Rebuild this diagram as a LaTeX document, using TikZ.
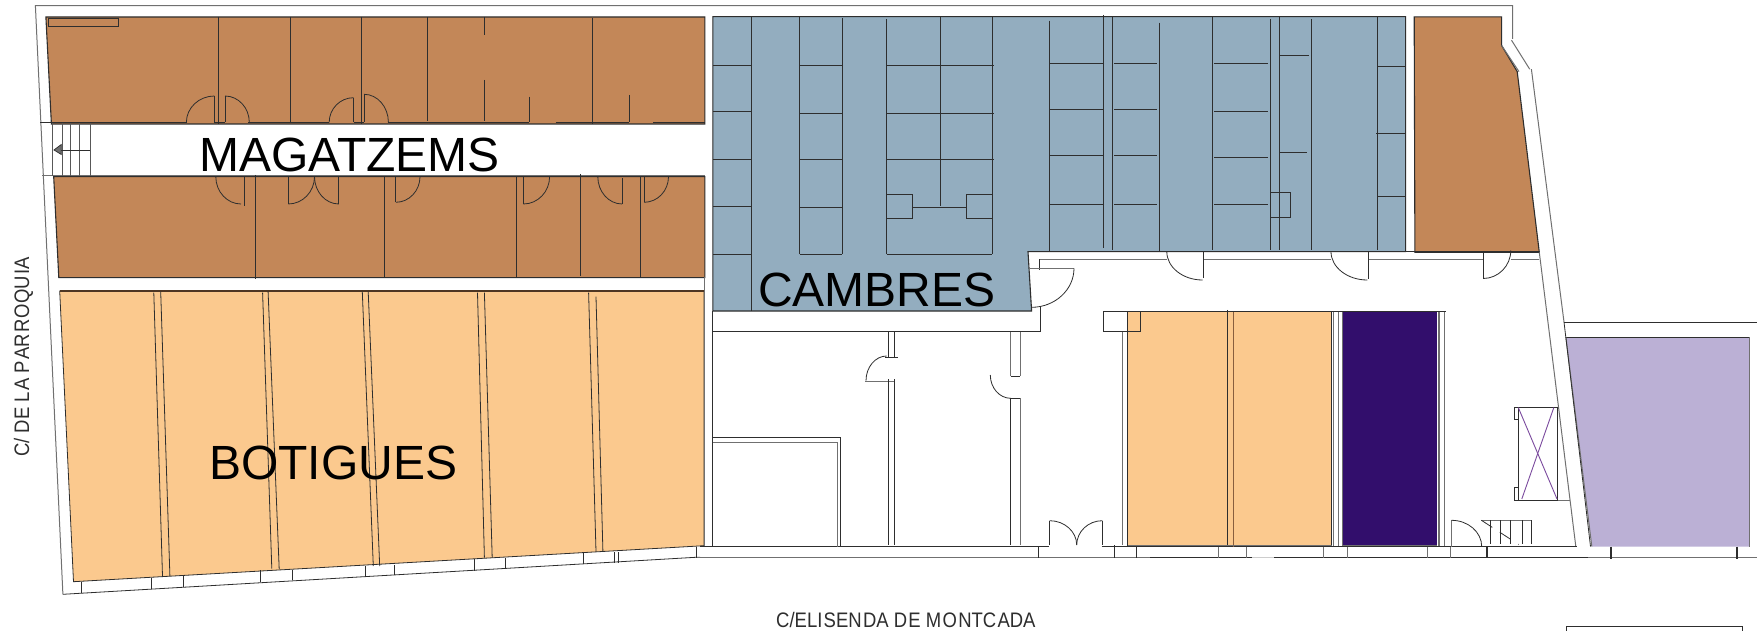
\documentclass[tikz,border=0pt]{standalone}
\usepackage{fontspec}
\setmainfont{Liberation Sans}
\newfontfamily\narrowf[FakeStretch=0.88]{Liberation Sans}
\newcommand\kk{\kern1.3pt\relax}
\definecolor{brownz}{HTML}{C38758}
\definecolor{bluez}{HTML}{93ADBF}
\definecolor{orangez}{HTML}{FBC98E}
\definecolor{darkz}{HTML}{320E6C}
\definecolor{lilacz}{HTML}{BBB0D5}
\definecolor{crossz}{HTML}{7B4A9E}
\definecolor{inkz}{HTML}{2E2E2E}
\definecolor{greyz}{HTML}{707070}
\tikzset{
  wl/.style={draw=inkz,line width=0.8pt},
  gl/.style={draw=greyz,line width=1pt},
  zone/.style={draw=inkz,line width=1.1pt,line join=miter},
  biglabel/.style={inner sep=0pt,anchor=base west,font=\fontsize{48}{50}\selectfont,text=black},
  smalllabel/.style={inner sep=0pt,font=\narrowf\fontsize{21}{23}\selectfont,text=inkz}
}
\newcommand\qarc[4]{%
  \pgfmathsetmacro\cxa{#1+0.55*(#3-#1)}%
  \pgfmathsetmacro\cya{#4-0.55*(#4-#2)}%
  \draw[wl] (#1,#2) .. controls (\cxa,#2) and (#3,\cya) .. (#3,#4);}
\begin{document}
\begin{tikzpicture}[x=1pt,y=-1pt]
\useasboundingbox (0,0) rectangle (1757,631);
\fill[white] (0,0) rectangle (1757,631);

% filled zones
\fill[brownz,zone] (45.9,17) -- (704.8,17) -- (704.8,124) -- (51.4,124) -- cycle;
\fill[brownz,zone] (53.7,176.7) -- (704.8,176.7) -- (704.8,277.7) -- (58.8,277.7) -- cycle;
\fill[brownz,zone] (1414.2,16.9) -- (1501.6,16.9) -- (1501.6,45.5) -- (1517.2,71.6) -- (1539.3,252.3) -- (1414.9,252.3) -- cycle;
\fill[bluez,zone] (712.8,16.7) -- (1405.6,16.7) -- (1405.6,251.7) -- (1028,251.7) -- (1031.6,311) -- (712.8,311) -- cycle;
\fill[orangez,wl] (59.7,291) -- (703.9,291) -- (703.9,545.7) -- (73.5,581.7) -- cycle;
\draw[gl,draw=black!60!brownz,line width=1.4pt] (59.7,291) -- (703.9,291);
\fill[orangez,wl] (1127.7,311.3) -- (1331.8,311.3) -- (1331.8,545.3) -- (1127.7,545.3) -- cycle;
\fill[darkz] (1342.1,311.5) rectangle (1437.3,544.9);
\fill[lilacz] (1565.9,337.2) -- (1749.9,337.2) -- (1749.9,546.5) -- (1591.8,546.5) -- cycle;
\draw[wl] (1565.9,337.2) -- (1749.9,337.2);
\draw[gl] (1749.9,337.2) -- (1749.9,546.5);
\draw[gl] (1565.9,337.2) -- (1591.8,546.5);
\draw[wl] (1564,322) -- (1590.5,546.5);

% outer wall
\draw[gl] (62.9,594.3) -- (35.4,5.7) -- (1512.6,5.7) -- (1512.6,39);
\draw[wl] (62.9,594.3) -- (695.6,557.3) -- (700,557.3);
\draw[gl] (700,557.5) -- (1150,557.5);
\draw[wl] (1150,557.5) -- (1252,557.5);
\draw[draw=greyz!35,line width=1pt] (1252,557.5) -- (1274,557.5);
\draw[wl] (1274,557.5) -- (1588,557.5);
\draw[gl] (1588,557.5) -- (1757,557.5);
\draw[gl] (1511.5,40.2) -- (1529.7,69.2);
\draw[gl] (1531.4,69.2) -- (1564,322);
\draw[wl] (1564,322.5) -- (1757,322.5);
\draw[gl] (1539.3,252.3) -- (1575.8,546.5);
\draw[gl] (1501.6,45.5) -- (1519,71.6);

% upper brown zone
\draw[wl] (48,18.3) rectangle (118.5,26);
\foreach \x/\a/\b in {218.5/17/124,290.6/17/122.3,360.9/17/124,427.5/17/120.7,484.4/17/35,484.4/80/120.7,592.3/18/124,529.4/96.7/122.3,629/95/122.3,214.4/96/122.3,225/96/122.3,353.5/97.7/122.3,364.1/94.3/122.3}
  \draw[wl] (\x,\a) -- (\x,\b);
\foreach \a/\b in {51.4/187.3,214.4/225,248.3/329.2,353.5/364.1,388.4/529.4,555.5/629,653.4/704.8}
  \draw[wl] (\a,122.3) -- (\b,122.3);
\qarc{214.4}{96}{186.4}{122.3}
\qarc{225}{96}{249.3}{122.3}
\qarc{353.5}{97.7}{329.2}{122.3}
\qarc{364.1}{94.3}{388.4}{122.3}

% corridor and stairs
\draw[wl] (40.4,122.7) -- (52.8,122.7);
\draw[gl] (42.2,175.7) -- (704.8,175.7);
\foreach \x in {52.8,62.3,70,79.4,90.4}
  \draw[wl,draw=inkz!80] (\x,122.7) -- (\x,175.7);
\draw[wl] (55,150) -- (90.4,150);
\filldraw[draw=inkz,fill=greyz,line width=0.7pt] (54,150) -- (61.3,144.5) -- (61.3,154.5) -- cycle;

% lower brown zone
\foreach \x/\a/\b in {255.3/175/279.3,384.8/176.7/277.7,516.5/176.7/277.7,580.8/174/276,640.5/176.7/277.7,244.3/176.7/205.7,288.3/176.7/204,338.8/176.7/204,395.8/176.7/202.3,523.4/176.7/204,622.1/178.3/204,644.2/176.7/202.3}
  \draw[wl] (\x,\a) -- (\x,\b);
\qarc{241}{204}{215.8}{176.7}
\qarc{288.3}{204}{314.5}{176.7}
\qarc{338.8}{204}{314.5}{176.7}
\qarc{395.8}{202.3}{420}{176.7}
\qarc{523.4}{204}{549.6}{176.7}
\qarc{622.1}{204}{597.8}{176.7}
\qarc{644.2}{202.3}{668.5}{176.7}

% botigues double lines
\foreach \xa/\ya/\xb/\yb in {153.8/292.7/162.5/576,160.7/291.7/169.9/576,262.6/292.7/271.8/568.7,268.1/291.7/279.2/569.3,362.3/291.7/373.3/566,368.2/291.7/379.7/566,477.5/292.7/484.4/557.7,484.4/292.7/492.2/557.7,588.6/292.7/596/551.7,596/296.7/602.9/551}
  \draw[wl] (\xa,\ya) -- (\xb,\yb);
\foreach \x/\a/\b in {81.3/581.7/593.3,151.5/577.7/589.3,183.7/576/587.3,260.8/570/581.7,292/570/580,365/565.7/576,394/565/575,474.3/559.3/570.7,505.5/557.7/569,583/553.3/564.3,614.3/552/563.3,618/552/562.7,696/546.7/557.7}
  \draw[wl] (\x,\a) -- (\x,\b);

% blue zone
\foreach \x/\a/\b in {751.5/17/311,799.5/17/254,842.3/18.3/254,886.7/19/254,940.3/17/205.7,992.3/17/254,1049.5/20.7/251.7,1103.6/15/248.3,1112.8/17/250,1159.2/22.7/251.7,1212.8/17/250,1269.9/19/250,1279.6/17/250,1311.2/19/250,1377.6/17/250}
  \draw[wl] (\x,\a) -- (\x,\b);
\foreach \a/\b/\y in {712.8/751.5/65,712.8/751.5/111.3,712.8/751.5/159.3,712.8/751.5/206,712.8/751.5/254,
  799.5/842.3/65,799.5/842.3/113.3,799.5/842.3/159.3,799.5/842.3/207.7,799.5/842.3/254,
  886.7/993.9/65,886.7/993.9/113.3,886.7/993.9/159.3,886.7/992.3/254,912.8/966.3/207.3,
  1049.5/1103.6/63,1049.5/1103.6/109.3,1049.5/1103.6/155.7,1049.5/1103.6/204,
  1114.3/1157.1/63,1114.3/1157.1/109.3,1114.3/1157.1/155.7,1114.3/1157.1/204,
  1214.3/1268/63,1214.3/1268/111.3,1214.3/1268/157.3,1214.3/1268/204,
  1279.6/1309.2/55.7,1279.6/1307.1/152,
  1377.6/1405.6/66.7,1376.1/1405.6/133.3,1377.6/1405.6/196.3}
  \draw[wl] (\a,\y) -- (\b,\y);
\draw[wl] (886.7,194.3) rectangle (912.8,218.7);
\draw[wl] (966.3,194.3) rectangle (992.3,218.7);
\draw[wl] (1269.9,192.7) rectangle (1290.3,217);

% corridor below blue
\draw[wl] (1405.6,251.7) -- (1539.3,251.7);
\foreach \a/\b in {1039.8/1166.8,1203.6/1331.1,1368.5/1483.1,1510.8/1539.3}
  \draw[gl,line width=0.9pt] (\a,259.5) -- (\b,259.5);
\draw[wl] (1039.8,259.3) -- (1039.8,270);
\draw[wl] (1203.6,251.7) -- (1203.6,278.5);
\draw[wl] (1368.4,251.7) -- (1368.4,279);
\draw[wl] (1483.1,252.7) -- (1483.1,278.9);
\draw[gl] (1029,268.3) -- (1074,268.3);
\qarc{1031.6}{307.3}{1074}{268.3}
\qarc{1202.5}{280}{1166.8}{251.7}
\qarc{1367.3}{280}{1331}{251.7}
\qarc{1483.1}{278.5}{1510.8}{250.3}

% rooms below
\draw[wl] (1040.7,307.3) -- (1040.7,331.7) -- (713.3,331.7);
\draw[gl] (704.8,277) -- (704.8,546);
\draw[wl] (712.7,311) -- (712.7,546.7);
\draw[gl,line width=0.8pt] (712,277) -- (712,17);
\draw[wl] (700,546.7) -- (1049.3,546.7);
\draw[wl] (1101.7,546.7) -- (1577,546.7);
\draw[wl] (712.7,437) -- (840.7,437) -- (840.7,546.7);
\draw[gl] (712.7,442.7) -- (837,442.7) -- (837,546.7);
\draw[wl] (888.3,332.3) -- (888.3,356.7);
\draw[wl] (894,332.3) -- (894,356.7);
\draw[wl] (885,357.7) -- (897.7,357.7);
\qarc{886.7}{356}{866}{380.7}
\draw[gl] (865,381.7) -- (894,381.7);
\draw[wl] (888.3,379.3) -- (888.3,545);
\draw[wl] (894,379.3) -- (894,545);
\draw[gl] (1010.7,332.3) -- (1010.7,376);
\draw[gl] (1020.3,332.3) -- (1020.3,376);
\draw[wl] (1010.7,376) -- (1020.3,376);
\qarc{1010.7}{398.3}{990.3}{375}
\draw[wl] (1010.7,398.3) -- (1020.3,398.3);
\draw[wl,line width=1.2pt] (1010.7,398.3) -- (1010.7,545);
\draw[gl] (1020.3,398.3) -- (1020.3,545);

% main entrance
\foreach \x/\a/\b in {1038.3/546.7/557.7,1114.5/545/557.7,1136.7/546.7/557.7,1049.7/520.7/545,1102.3/520.7/545}
  \draw[wl] (\x,\a) -- (\x,\b);
\qarc{1049.7}{520.7}{1076.7}{545}
\qarc{1102.3}{520.7}{1076.7}{545}

% central rooms
\draw[wl] (1103.3,311.7) rectangle (1140.7,331.7);
\draw[gl] (1122,331.7) -- (1122,545);
\draw[wl] (1227.7,309.9) -- (1227.7,546.5);
\draw[gl,draw=brownz!70!black] (1233.4,311.9) -- (1233.4,546.5);
\draw[wl] (1127.7,311.3) -- (1445.8,311.3);
\draw[gl] (1333.2,311.9) -- (1333.2,546);
\draw[gl] (1338.5,311.9) -- (1338.5,546);
\draw[gl] (1342.1,311.5) -- (1342.1,546);
\draw[gl,line width=1.4pt] (1439,311.5) -- (1439,546);
\draw[gl] (1444.4,311.5) -- (1444.4,546);
\draw[gl] (1342.1,545.5) -- (1437.3,545.5);
\draw[gl] (1127.7,545.3) -- (1331.8,545.3);

% lower ticks
\foreach \x in {1218.4,1246.1,1323.6,1347.8,1427.4,1450}
  \draw[gl] (\x,546.5) -- (\x,557.5);
\draw[wl,line width=1.3pt] (1487,546.5) -- (1487,558);
\draw[wl,line width=1.5pt] (1611,546.5) -- (1611,559);
\draw[wl,line width=1.5pt] (1737,546.5) -- (1737,559);

% door and stair bottom right
\draw[gl] (1451.5,520.3) -- (1451.5,546.5);
\qarc{1451.5}{520.3}{1481.7}{546.5}
\draw[gl] (1481.4,520.3) -- (1531.4,520.3);
\foreach \x in {1490.6,1500.2,1510.8,1522.2,1531.4}
  \draw[wl] (\x,520.3) -- (\x,544);
\draw[wl,dash pattern=on 13pt off 9pt] (1481.4,520.3) -- (1518.6,544.5);

% lift
\draw[wl] (1518.3,407.6) -- (1557.7,407.6) -- (1557.7,500.2) -- (1518.3,500.2) -- cycle;
\draw[wl] (1514.4,407.6) rectangle (1518.3,418.9);
\draw[wl] (1514.4,487) rectangle (1518.3,500.2);
\draw[gl] (1557.7,500.2) -- (1569.5,500.2);
\draw[crossz,line width=0.9pt] (1518.3,407.6) -- (1557,499);
\draw[crossz,line width=0.9pt] (1553.8,407.6) -- (1521.8,499);

% partial box bottom right
\draw[wl] (1566,631) -- (1566,626.6) -- (1742.8,626.6) -- (1742.8,631);

% labels
\node[biglabel] (magatzems) at (199,172) {MAGATZEMS};
\node[biglabel] (cambres) at (758,306.5) {CAMBRES};
\node[biglabel] (botigues) at (209,479.5) {BOTIGUES};
\node[smalllabel,anchor=base west,rotate=90] (parroquia) at (29,457) {C/ DE L\kk A P\kk AR\kk R\kk OQU\kk IA};
\node[smalllabel,anchor=base west] (elisenda) at (776,627.3) {C/ELI\kk SEN\kk DA D\kk E M\kk O\kk NTC\kk ADA};
\end{tikzpicture}
\end{document}
